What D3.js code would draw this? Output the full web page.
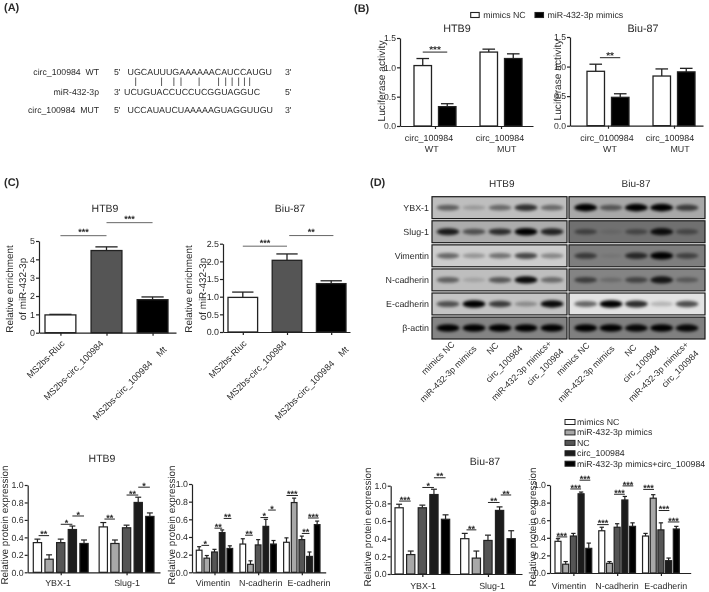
<!DOCTYPE html>
<html>
<head>
<meta charset="utf-8">
<script src="https://d3js.org/d3.v7.min.js"></script>
<style>
html, body { margin: 0; padding: 0; background: #fff; }
svg { display: block; filter: blur(0.4px); }
text { font-family: "Liberation Sans", Arial, sans-serif; fill: #2a2a2a; white-space: pre; text-rendering: geometricPrecision; }
</style>
</head>
<body>
<svg id="fig" width="709" height="592"></svg>
<script>
// ---- panel A: sequences
const seqRows = [
  ["circ_100984  WT", "5'", "UGCAUUUGAAAAAACAUCCAUGU", "3'"],
  ["miR-432-3p", "3'", "UCUGUACCUCCUCGGUAGGUC", "5'"],
  ["circ_100984  MUT", "5'", "UCCAUAUCUAAAAAGUAGGUUGU", "3'"]
];
const pairedBases = [1.8, 5.8, 7.7, 8.8, 11.6, 14.6, 15.7, 16.7, 17.7, 18.6, 19.4];

// ---- panel B: luciferase
const lucGroupsHTB9 = ["circ_100984", "circ_100984"];
const lucGroupsBiu = ["circ_0100984", "circ_100984"];
const lucSubLabels = ["WT", "MUT"];
const lucLegend = ["mimics NC", "miR-432-3p mimics"];
const lucHTB9 = [[1.03, 0.33], [1.26, 1.15]];
const lucHTB9Err = [[0.12, 0.05], [0.05, 0.08]];
const lucBiu = [[0.92, 0.48], [0.84, 0.91]];
const lucBiuErr = [[0.12, 0.06], [0.12, 0.06]];
const lucTicks = [0, 0.5, 1.0, 1.5];

// ---- panel C: enrichment
const ripGroups = ["MS2bs-Rluc", "MS2bs-circ_100984", "MS2bs-circ_100984    Mt"];
const ripHTB9 = [[0.97], [4.48], [1.8]];
const ripHTB9Err = [[0.03], [0.2], [0.15]];
const ripBiu = [[0.98], [2.03], [1.37]];
const ripBiuErr = [[0.15], [0.18], [0.08]];
const ripTicksHTB9 = [0, 1, 2, 3, 4, 5];
const ripTicksBiu = [0, 0.5, 1.0, 1.5, 2.0, 2.5];

// ---- panel D: western blot, band darkness 0-1 per lane
const blotRows = ["YBX-1", "Slug-1", "Vimentin", "N-cadherin", "E-cadherin", "β-actin"];
const blotLanes = ["mimics NC", "miR-432-3p mimics", "NC", "circ_100984", "miR-432-3p mimics+"];
const blotHTB9 = [
  [0.5, 0.2, 0.45, 0.75, 0.45],
  [0.85, 0.55, 0.75, 1, 0.8],
  [0.5, 0.28, 0.45, 0.65, 0.35],
  [0.5, 0.15, 0.55, 0.95, 0.45],
  [0.6, 1, 0.7, 0.3, 0.95],
  [1, 1, 1, 1, 1]
];
const blotBiu = [
  [1, 0.5, 1, 1, 0.65],
  [0.45, 0.1, 0.4, 0.9, 0.4],
  [0.55, 0.08, 0.7, 1, 0.5],
  [0.55, 0.2, 0.5, 0.85, 0.35],
  [0.55, 1, 0.8, 0.2, 0.65],
  [1, 1, 0.95, 1, 0.95]
];
const blotBgHTB9 = [190, 172, 205, 190, 196, 132];
const blotBgBiu = [168, 112, 126, 132, 226, 128];

// ---- bottom: quantification
const wbSeries = ["mimics NC", "miR-432-3p mimics", "NC", "circ_100984", "miR-432-3p mimics+circ_100984"];
const wbGroupsA = ["YBX-1", "Slug-1"];
const wbGroupsB = ["Vimentin", "N-cadherin", "E-cadherin"];
const wbHTB9a = [[0.34, 0.15, 0.34, 0.49, 0.33], [0.52, 0.33, 0.51, 0.8, 0.64]];
const wbHTB9aErr = [[0.04, 0.05, 0.04, 0.04, 0.04], [0.05, 0.04, 0.03, 0.06, 0.04]];
const wbHTB9b = [[0.25, 0.16, 0.23, 0.45, 0.27], [0.32, 0.09, 0.31, 0.52, 0.32], [0.34, 0.79, 0.37, 0.18, 0.54]];
const wbHTB9bErr = [[0.04, 0.03, 0.03, 0.03, 0.03], [0.06, 0.04, 0.06, 0.08, 0.04], [0.05, 0.05, 0.04, 0.05, 0.04]];
const wbBiuA = [[0.75, 0.22, 0.75, 0.9, 0.62], [0.4, 0.18, 0.38, 0.72, 0.4]];
const wbBiuAErr = [[0.04, 0.04, 0.03, 0.06, 0.05], [0.06, 0.08, 0.06, 0.04, 0.09]];
const wbBiuB = [[0.36, 0.1, 0.42, 0.9, 0.28], [0.48, 0.11, 0.52, 0.83, 0.53], [0.42, 0.85, 0.49, 0.14, 0.5]];
const wbBiuBErr = [[0.03, 0.03, 0.03, 0.02, 0.06], [0.04, 0.02, 0.04, 0.04, 0.04], [0.03, 0.04, 0.08, 0.03, 0.03]];
const wbTicks = [0, 0.2, 0.4, 0.6, 0.8, 1.0];

// significance brackets: group, from bar, to bar, value height, stars
const sigLucHTB9 = [[0, 0, 1, 1.26, "***"]];
const sigLucBiu = [[0, 0.17, 1, 1.15, "**"]];
const sigRipHTB9 = [[0, 0, 1, 5.29, "***"], [0, 1, 2, 6.0, "***"]];
const sigRipBiu = [[0, 0, 1, 2.43, "***"], [0, 1.05, 2.05, 2.73, "**"]];
const sigHTB9a = [
  [0, 0.1, 1, 0.42, "**"], [0, 2, 3, 0.55, "*"], [0, 3, 4, 0.645, "*"],
  [1, 0.1, 1, 0.61, "**"], [1, 2, 3, 0.885, "**"], [1, 3, 4, 0.975, "*"]
];
const sigHTB9b = [
  [0, 0.3, 1.3, 0.305, "*"], [0, 2, 3, 0.5, "**"], [0, 3.2, 4.2, 0.61, "**"],
  [1, 0.3, 1.3, 0.42, "**"], [1, 2.3, 3.3, 0.62, "*"], [1, 3.3, 4.3, 0.705, "*"],
  [2, 0, 1.5, 0.87, "***"], [2, 2, 3, 0.44, "**"], [2, 2.8, 4.2, 0.615, "***"]
];
const sigBiuA = [
  [0, 0, 1, 0.826, "***"], [0, 2, 3, 0.98, "*"], [0, 3, 4, 1.09, "**"],
  [1, 0.15, 1, 0.5, "**"], [1, 2, 3, 0.81, "**"], [1, 3.1, 4, 0.895, "**"]
];
const sigBiuB = [
  [0, -0.2, 1.2, 0.41, "***"], [0, 1.6, 3, 0.955, "***"], [0, 2.8, 4.2, 1.055, "***"],
  [1, -0.6, 0.9, 0.55, "***"], [1, 1.6, 3, 0.895, "***"], [1, 2.7, 4.1, 0.99, "***"],
  [2, -0.3, 1.1, 0.95, "***"], [2, 1.7, 3.1, 0.71, "***"], [2, 2.9, 4.4, 0.58, "***"]
];

const wbColors = ["#fff", "#a8a8a8", "#555", "#1c1c1c", "#000"];
const lucColors = ["#fff", "#000"];
const ripColors = ["#fff", "#555", "#000"];

const svg = d3.select("#fig");
const defs = svg.append("defs");
defs.append("filter").attr("id", "bandBlur")
  .attr("x", "-30%").attr("y", "-80%").attr("width", "160%").attr("height", "260%")
  .append("feGaussianBlur").attr("stdDeviation", 1.5);

function label(x, y, str, size, opts) {
  opts = opts || {};
  const t = svg.append("text")
    .attr("x", x).attr("y", y)
    .attr("font-size", size)
    .attr("text-anchor", opts.anchor || "start")
    .attr("dominant-baseline", "central")
    .text(str);
  if (opts.bold) t.attr("font-weight", "bold");
  if (opts.rotate) t.attr("transform", "rotate(" + opts.rotate + " " + x + " " + y + ")");
  return t;
}

function barChart(c) {
  const g = svg.append("g");
  const y = d3.scaleLinear().domain(c.domain).range([c.y0, c.y1]);
  const gx = d3.scaleBand().domain(d3.range(c.data.length))
    .range([c.x0, c.x1]).paddingInner(c.groupPad);
  const n = c.data[0].length;
  const bx = d3.scaleBand().domain(d3.range(n))
    .range([0, gx.bandwidth()]).paddingInner(c.barPad);
  const unit = n > 1 ? bx.step() : gx.step();
  const sw = c.stroke || 1.3;

  c.data.forEach((vals, gi) => {
    const cell = g.append("g").attr("transform", "translate(" + gx(gi) + ",0)");
    // error caps first so the bar sits over the lower half
    const err = cell.selectAll(".err").data(vals).enter().append("g").attr("class", "err");
    err.append("line")
      .attr("x1", (d, i) => bx(i) + bx.bandwidth() / 2)
      .attr("x2", (d, i) => bx(i) + bx.bandwidth() / 2)
      .attr("y1", d => y(d))
      .attr("y2", (d, i) => y(d + c.err[gi][i]));
    err.append("line")
      .attr("x1", (d, i) => bx(i) + bx.bandwidth() * 0.14)
      .attr("x2", (d, i) => bx(i) + bx.bandwidth() * 0.86)
      .attr("y1", (d, i) => y(d + c.err[gi][i]))
      .attr("y2", (d, i) => y(d + c.err[gi][i]));
    err.selectAll("line").attr("stroke", "#222").attr("stroke-width", sw);
    cell.selectAll("rect").data(vals).enter().append("rect")
      .attr("x", (d, i) => bx(i))
      .attr("y", d => y(d))
      .attr("width", bx.bandwidth())
      .attr("height", d => c.y0 - y(d))
      .attr("fill", (d, i) => n > 1 ? c.colors[i] : c.colors[gi])
      .attr("stroke", "#222")
      .attr("stroke-width", sw);
  });

  const yAxis = g.append("g")
    .attr("transform", "translate(" + c.axisX + ",0)")
    .call(d3.axisLeft(y).tickValues(c.ticks).tickSize(3).tickSizeOuter(0).tickPadding(1)
      .tickFormat(c.fmt || d3.format(".1f")));
  yAxis.selectAll("text").attr("font-size", c.tickSize);
  const xAxis = g.append("g")
    .attr("transform", "translate(0," + c.y0 + ")")
    .call(d3.axisBottom(d3.scaleLinear().domain([c.axisX, c.axisEnd]).range([c.axisX, c.axisEnd]))
      .tickValues(c.data.map((d, i) => gx(i) + gx.bandwidth() / 2))
      .tickSize(3).tickSizeOuter(0).tickFormat(""));
  [yAxis, xAxis].forEach(a => {
    a.selectAll(".domain, line").attr("stroke", "#222").attr("stroke-width", 1.2);
  });

  // significance
  (c.sig || []).forEach(s => {
    const base = gx(s[0]) + bx.bandwidth() / 2;
    const xa = base + s[1] * unit, xb = base + s[2] * unit;
    g.append("line")
      .attr("x1", xa).attr("x2", xb)
      .attr("y1", y(s[3])).attr("y2", y(s[3]))
      .attr("stroke", c.sigColor || "#222").attr("stroke-width", 1);
    g.append("text")
      .attr("x", (xa + xb) / 2).attr("y", y(s[3]) + c.starDy)
      .attr("text-anchor", "middle")
      .attr("font-size", c.starSize || 9)
      .attr("font-weight", "bold")
      .text(s[4]);
  });
  return gx;
}

// ---- (A)
label(4, 8, "(A)", 11, { bold: true });
const seqY = [72, 92, 110];
seqRows.forEach((r, i) => {
  label(99, seqY[i], r[0], 8.7, { anchor: "end" });
  label(114, seqY[i], r[1], 8.7);
  label(i === 1 ? 124 : 127.5, seqY[i], r[2], 8.9);
  label(285, seqY[i], r[3], 8.7);
});
const pairX = d3.scaleLinear().domain([0, seqRows[1][2].length]).range([124, 260]);
svg.selectAll(".pair").data(pairedBases).enter().append("line")
  .attr("class", "pair")
  .attr("x1", d => pairX(d)).attr("x2", d => pairX(d))
  .attr("y1", 77.5).attr("y2", 86)
  .attr("stroke", "#333").attr("stroke-width", 0.8);

// ---- (B)
label(354, 9, "(B)", 11, { bold: true });
lucLegend.forEach((d, i) => {
  const bx = [470.7, 535][i];
  svg.append("rect").attr("x", bx).attr("y", 12.5).attr("width", 8.5).attr("height", 5)
    .attr("fill", lucColors[i]).attr("stroke", "#222").attr("stroke-width", 1.1);
  label(bx + 12.5, 15, d, 8.8);
});
const lucBase = { domain: [0, 1.5], ticks: lucTicks, groupPad: 0.364, barPad: 0.286, colors: lucColors, starDy: 1, starSize: 10, tickSize: 8.6 };
barChart(Object.assign({}, lucBase, {
  data: lucHTB9, err: lucHTB9Err, sig: sigLucHTB9,
  x0: 414, x1: 522, y0: 126, y1: 38, axisX: 400, axisEnd: 533
}));
barChart(Object.assign({}, lucBase, {
  data: lucBiu, err: lucBiuErr, sig: sigLucBiu,
  x0: 587, x1: 695, y0: 125.7, y1: 37, axisX: 570, axisEnd: 703
}));
label(457, 29, "HTB9", 10.8, { anchor: "middle" });
label(643, 29, "Biu-87", 10.8, { anchor: "middle" });
label(382, 81, "Luciferase activity", 10.2, { anchor: "middle", rotate: -90 });
label(558, 80, "Luciferase activity", 10.2, { anchor: "middle", rotate: -90 });
const lucLabelX = [429, 500, 607, 670];
const lucSubX = [431.7, 506.7, 610, 680];
lucGroupsHTB9.concat(lucGroupsBiu).forEach((d, i) => {
  label(lucLabelX[i], 138, d, 8.9, { anchor: "middle" });
  label(lucSubX[i], 148.5, lucSubLabels[i % 2], 8.9, { anchor: "middle" });
});

// ---- (C)
label(4, 183, "(C)", 11, { bold: true });
const ripBase = { groupPad: 0.33, barPad: 0, colors: ripColors, sigColor: "#666", starDy: -0.5, starSize: 9, tickSize: 8.9 };
barChart(Object.assign({}, ripBase, {
  data: ripHTB9, err: ripHTB9Err, sig: sigRipHTB9, domain: [0, 5], ticks: ripTicksHTB9,
  fmt: d3.format("d"), x0: 45, x1: 168, y0: 332.7, y1: 241, axisX: 39, axisEnd: 176
}));
barChart(Object.assign({}, ripBase, {
  data: ripBiu, err: ripBiuErr, sig: sigRipBiu, domain: [0, 2.5], ticks: ripTicksBiu,
  x0: 228, x1: 346, y0: 332, y1: 243.7, axisX: 223, axisEnd: 350
}));
label(105, 209, "HTB9", 10.5, { anchor: "middle" });
label(290, 209, "Biu-87", 10.5, { anchor: "middle" });
label(10, 289, "Relative enrichment", 9.9, { anchor: "middle", rotate: -90 });
label(23, 289, "of miR-432-3p", 9.9, { anchor: "middle", rotate: -90 });
label(189, 289, "Relative enrichment", 9.9, { anchor: "middle", rotate: -90 });
label(203, 289, "of miR-432-3p", 9.9, { anchor: "middle", rotate: -90 });
const ripEnds = [[63, 342], [102, 342], [165, 348], [245, 342], [285, 342], [347, 348]];
ripGroups.concat(ripGroups).forEach((d, i) => {
  label(ripEnds[i][0], ripEnds[i][1], d, 9, { anchor: "end", rotate: -45 });
});

// ---- (D)
label(370, 183, "(D)", 11, { bold: true });
label(501.7, 184, "HTB9", 10, { anchor: "middle" });
label(636, 184, "Biu-87", 10, { anchor: "middle" });
const rowY = d3.scaleBand().domain(blotRows).range([196.7, 339]).paddingInner(0.09);
function blot(x0, x1, cx0, cx1, bands, bgs, id) {
  const laneX = d3.scalePoint().domain(d3.range(5)).range([cx0, cx1]);
  const g = svg.append("g");
  blotRows.forEach((r, ri) => {
    const grey = bgs[ri];
    const clipId = id + ri;
    defs.append("clipPath").attr("id", clipId).append("rect")
      .attr("x", x0).attr("y", rowY(r)).attr("width", x1 - x0).attr("height", rowY.bandwidth());
    const row = g.append("g").attr("clip-path", "url(#" + clipId + ")");
    row.append("rect")
      .attr("x", x0).attr("y", rowY(r)).attr("width", x1 - x0).attr("height", rowY.bandwidth())
      .attr("fill", d3.rgb(grey, grey, grey));
    const cy = rowY(r) + rowY.bandwidth() / 2;
    row.append("g").attr("filter", "url(#bandBlur)")
      .selectAll("ellipse").data(bands[ri]).enter().append("ellipse")
      .attr("cx", (d, i) => laneX(i))
      .attr("cy", cy)
      .attr("rx", 11.5)
      .attr("ry", d => 2 + 1.8 * d)
      .attr("fill", "#000")
      .attr("opacity", d => Math.min(1, d));
    g.append("rect")
      .attr("x", x0).attr("y", rowY(r)).attr("width", x1 - x0).attr("height", rowY.bandwidth())
      .attr("fill", "none").attr("stroke", "#1a1a1a").attr("stroke-width", 1.2);
  });
}
blot(432, 567, 448, 552, blotHTB9, blotBgHTB9, "h");
blot(569, 705, 585.7, 687, blotBiu, blotBgBiu, "b");
blotRows.forEach(r => {
  label(429, rowY(r) + rowY.bandwidth() / 2, r, 8.9, { anchor: "end" });
});
const laneEnds = [[453, 343], [475, 347], [497, 344], [521, 347], [550, 342],
  [588, 344], [613, 347], [635, 346], [658, 347], [687, 343]];
blotLanes.concat(blotLanes).forEach((d, i) => {
  label(laneEnds[i][0], laneEnds[i][1], d, 8.8, { anchor: "end", rotate: -45 });
});
label(562, 350, "circ_100984", 8.8, { anchor: "end", rotate: -45 });
label(697, 352, "circ_100984", 8.8, { anchor: "end", rotate: -45 });

// ---- bottom
const wbBase = { domain: [0, 1], ticks: wbTicks, colors: wbColors, stroke: 1.2, starSize: 9, starDy: 1.7, tickSize: 8.8 };
barChart(Object.assign({}, wbBase, {
  data: wbHTB9a, err: wbHTB9aErr, sig: sigHTB9a,
  x0: 33.3, x1: 154, groupPad: 0.167, barPad: 0.29, y0: 572.3, y1: 485, axisX: 27.7, axisEnd: 160
}));
barChart(Object.assign({}, wbBase, {
  data: wbHTB9b, err: wbHTB9bErr, sig: sigHTB9b,
  x0: 196.3, x1: 320, groupPad: 0.167, barPad: 0.26, y0: 572.3, y1: 484, axisX: 192, axisEnd: 325.7
}));
barChart(Object.assign({}, wbBase, {
  data: wbBiuA, err: wbBiuAErr, sig: sigBiuA,
  x0: 395, x1: 515.3, groupPad: 0.167, barPad: 0.29, y0: 574, y1: 485.7, axisX: 390.7, axisEnd: 522
}));
barChart(Object.assign({}, wbBase, {
  data: wbBiuB, err: wbBiuBErr, sig: sigBiuB,
  x0: 555, x1: 679.3, groupPad: 0.16, barPad: 0.22, y0: 573, y1: 485, axisX: 550, axisEnd: 690.7
}));
label(102, 459, "HTB9", 10.5, { anchor: "middle" });
label(485, 461.7, "Biu-87", 10.5, { anchor: "middle" });
[[5, 525], [172, 525], [368, 527], [533, 527]].forEach(p => {
  label(p[0], p[1], "Relative protein expression", 9.9, { anchor: "middle", rotate: -90 });
});
const wbLabelPos = [[58, 582.7], [127, 582.7], [213, 582.7], [260.7, 582.7], [309, 582.7],
  [423, 585.7], [492, 585.7], [569, 585.7], [617, 585.7], [665.7, 585.7]];
wbGroupsA.concat(wbGroupsB, wbGroupsA, wbGroupsB).forEach((d, i) => {
  label(wbLabelPos[i][0], wbLabelPos[i][1], d, 8.9, { anchor: "middle" });
});

// legend of the quantification bars
const legendY = d3.scalePoint().domain(wbSeries).range([422, 463.7]);
wbSeries.forEach((d, i) => {
  svg.append("rect").attr("x", 565).attr("y", legendY(d) - 2.5).attr("width", 10).attr("height", 5)
    .attr("fill", wbColors[i]).attr("stroke", "#222").attr("stroke-width", 1);
  label(577, legendY(d), d, 8.75);
});
</script>
</body>
</html>
